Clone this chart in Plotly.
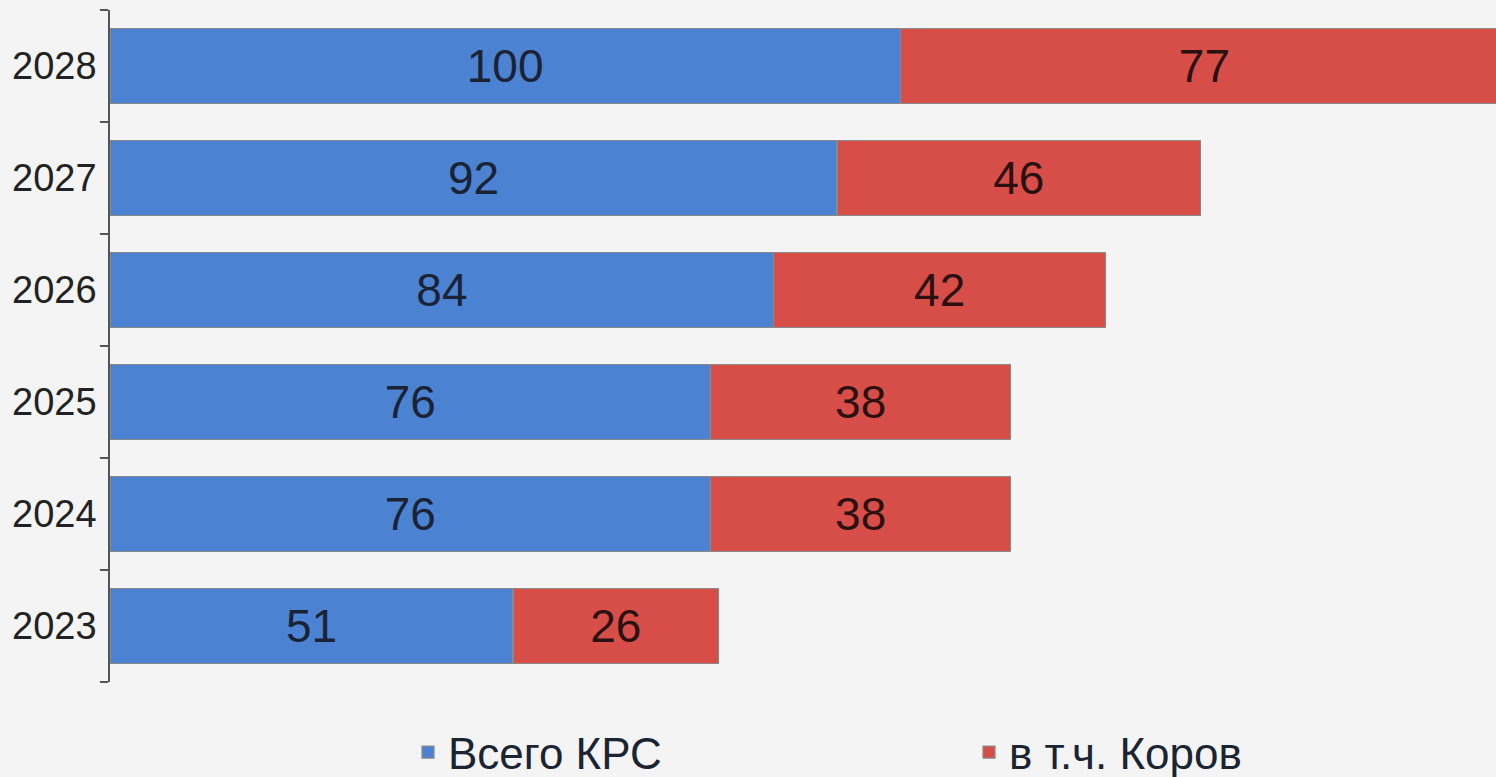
import plotly.graph_objects as go

years = ["2023", "2024", "2025", "2026", "2027", "2028"]
total_krs = [51, 76, 76, 84, 92, 100]
cows = [26, 38, 38, 42, 46, 77]

font_family = "Liberation Sans, Arial, sans-serif"

fig = go.Figure()
fig.add_trace(go.Bar(
    y=years, x=total_krs, orientation="h", name="Всего КРС",
    marker=dict(color="#4b83d2", line=dict(color="#8a8a8a", width=1.2)),
    text=total_krs, textposition="inside", insidetextanchor="middle",
    textfont=dict(size=46, color="#1a2233", family=font_family),
    legend="legend",
))
fig.add_trace(go.Bar(
    y=years, x=cows, orientation="h", name="в т.ч. Коров",
    marker=dict(color="#d74e49", line=dict(color="#8a8a8a", width=1.2)),
    text=cows, textposition="inside", insidetextanchor="middle",
    textfont=dict(size=46, color="#2a1010", family=font_family),
    legend="legend2",
))

legend_common = dict(
    orientation="h", yref="container", y=(777 - 717) / 777, yanchor="top", xref="container",
    xanchor="left", font=dict(size=44, color="#1b2433", family=font_family),
    bgcolor="rgba(0,0,0,0)", itemwidth=30,
)

fig.update_layout(
    barmode="stack",
    bargap=0.33,
    width=1496, height=777,
    margin=dict(l=110, r=0, t=10, b=95, autoexpand=False),
    paper_bgcolor="#f4f4f4",
    plot_bgcolor="#f4f4f4",
    font=dict(family=font_family, color="#222"),
    showlegend=True,
    legend=dict(x=408 / 1496, **legend_common),
    legend2=dict(x=969 / 1496, **legend_common),
)
fig.update_xaxes(range=[0, 175.4], visible=False, showgrid=False, zeroline=False)
fig.update_yaxes(
    type="category", showgrid=False, zeroline=False,
    showline=True, linecolor="#555", linewidth=1.5,
    ticks="outside", tickson="boundaries", ticklen=8, tickcolor="#555", tickwidth=1.5,
    tickfont=dict(size=38, color="#222", family=font_family),
    ticklabelstandoff=4,
)

fig.write_html(
    "out.html",
    config={"displayModeBar": False},
    post_script="document.body.style.margin='0';document.body.style.background='#f4f4f4';",
)
